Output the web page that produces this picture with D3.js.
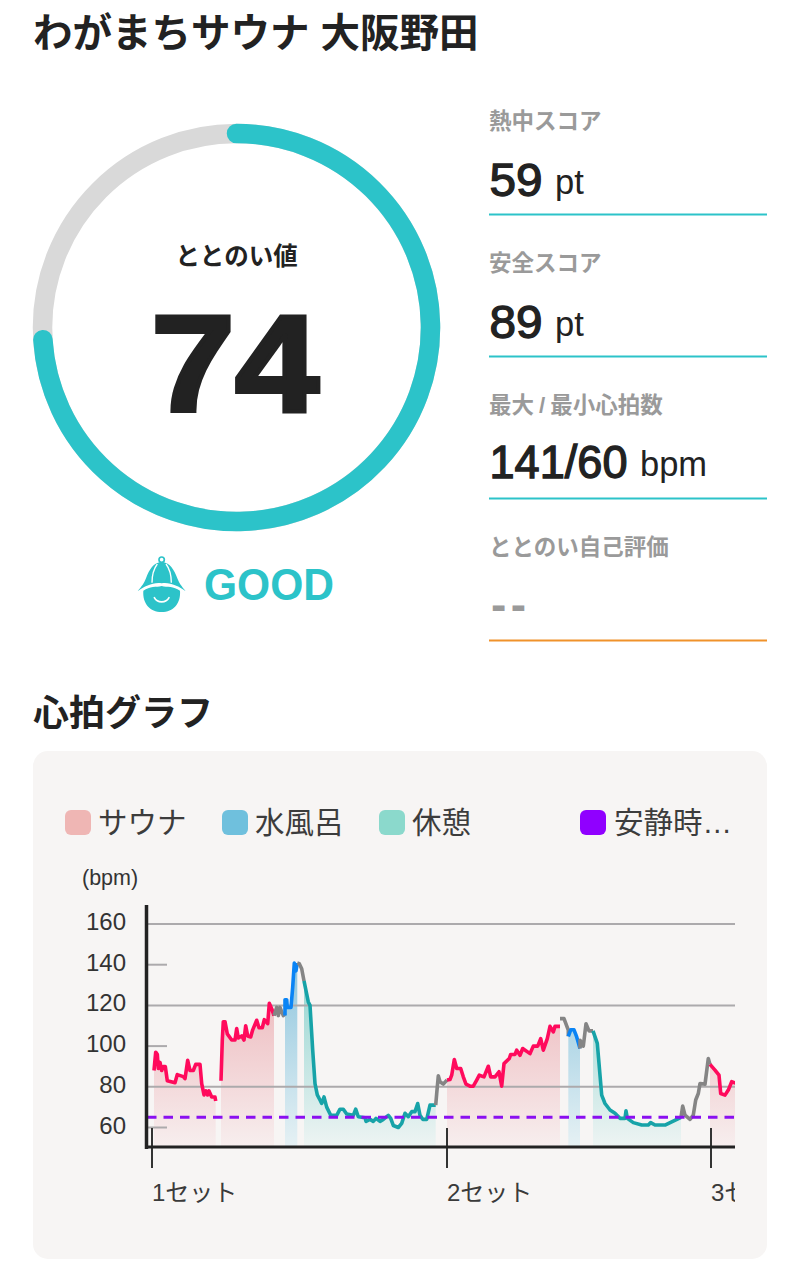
<!DOCTYPE html>
<html><head><meta charset="utf-8">
<script src="https://cdn.jsdelivr.net/npm/d3@7"></script>
<style>
html,body{margin:0;padding:0;background:#fff}
svg{display:block}
text{font-family:"Liberation Sans","Noto Sans CJK JP",sans-serif}
</style></head><body><div id="c"></div>
<script>
const title = "わがまちサウナ 大阪野田";
const gaugeLabel = "ととのい値";
const gaugeValue = 74;
const gaugeGrade = "GOOD";
const statLabels = ["熱中スコア","安全スコア","最大/最小心拍数","ととのい自己評価"];
const statValues = ["59","89","141/60","--"];
const statUnits = ["pt","pt","bpm",""];
const chartTitle = "心拍グラフ";
const legendLabels = ["サウナ","水風呂","休憩","安静時…"];
const legendColors = ["#efb6b4","#6fc0dd","#8bd9cc","#9000ff"];
const yTicks = [60,80,100,120,140,160];
const gridTicks = [80,120,160];
const setTicks = [0,295,559];
const setLabels = ["1セット","2セット","3セット"];
const restingBpm = 65;

// [elapsed time, bpm]
const sauna1 = [[2,88],[3.7,97],[5.3,96],[6.3,89],[8,92],[9.7,88],[11.3,90],[13.3,90],[15.3,83],[23,82],[25.3,86],[31.3,85],[33,84],[35.7,93],[38,88],[41.3,88],[43.7,91],[48,91],[49.7,81.6],[52,76],[54,78],[55.7,76],[57,78],[59.7,75],[63,75],[63.7,73]];
const sauna2 = [[69,83],[70.3,103],[71.3,112],[73,112],[75.3,106],[79.7,103],[83,103],[84.7,108.6],[86.3,104],[89.7,105],[92,103],[93.7,110],[95.7,105],[98.7,104.5],[100.7,108],[104.7,112.7],[107,109],[110.3,109],[112.3,113],[115.7,111],[117.3,121],[119.7,118.4],[122,115]];
const trans1 = [[122,115],[124.7,119],[126.3,115],[128,119],[131.3,115],[133,116]];
const bath1 = [[133,115],[133,122.8],[134.7,122.8],[135.3,119],[139,119],[140.7,129],[142.3,140.8],[144,137],[145.3,140.8]];
const trans2 = [[145.3,140.8],[147.3,140.5],[149.7,138],[152,132]];
const rest1 = [[152,132],[156.3,121.7],[158,120],[160.7,98],[163,81.6],[165.3,76],[168,73.5],[169.7,71.8],[172,75],[174.7,70],[178.7,66],[184.7,66],[188,69],[191.3,69],[194.7,66.6],[201.3,66],[203.7,69],[206.3,65.3],[213,64.8],[214,63],[218,64],[221.3,63],[224,64.5],[228,63],[231.3,64],[236.3,66],[238.7,64.5],[241.3,61],[246.3,60],[249.7,62],[253,67],[256.3,65.3],[259.7,67.8],[263,67.8],[265.7,71.8],[268,66],[270.7,64],[274.7,64],[278,71],[283.7,71]];
const trans3 = [[283.7,71],[284.7,76.7],[286.3,85.4],[288,82.5],[291.3,81.3],[295,83.3]];
const sauna3 = [[295,83.3],[298,83.6],[299.7,85.7],[302.3,93.4],[304.7,89],[308.7,89],[311.3,84.9],[314,81.3],[318,80.3],[321.3,80.3],[324.7,83.3],[327.3,85.7],[332,84.9],[336.3,90.1],[338.7,84.9],[343,84.9],[347,87.4],[349.7,80.3],[352,91.4],[357.3,93.9],[358.7,95.9],[363,95.9],[364.7,98],[368,95.5],[370.7,98.8],[378,96.3],[381.3,100],[385.7,100],[388.7,103.7],[391.3,98],[395.3,103.7],[398,109.7],[401.3,107],[403,109.7],[408,109.7]];
const trans4 = [[408,113.5],[412,113.5],[416.3,107.8],[416.3,104.8]];
const bath2 = [[416.3,104.8],[418.7,108],[422,108],[424.7,104.5],[428,98.8]];
const trans5 = [[428,98.8],[428,102.9],[431.3,100],[434,111],[437,107.5],[441,107.5]];
const rest2 = [[441,107.5],[445.3,101.3],[447.3,89.8],[449.7,75.9],[453,71.8],[458,68.6],[463,67],[468,64.5],[473,64.5],[474,68.2],[475.3,64.5],[481.3,62.4],[489.7,61.2],[496.3,61.2],[498.7,62.4],[503,61.2],[513,61.2],[519.7,62.8],[529,65]];
const trans6 = [[529,65],[530.7,70.5],[533,66.1],[538,64],[541.3,66.1],[543.7,73.5],[546.3,76.7],[548,81.6],[553,81.3],[556.3,93.9],[558,91]];
const sauna4 = [[558,91],[563,88.2],[567,85.7],[568.7,76.7],[573,75.9],[576.3,78.4],[579.7,82.5],[585,81.6]];
const segments = [["sauna",sauna1],["sauna",sauna2],["trans",trans1],["bath",bath1],["trans",trans2],["rest",rest1],["trans",trans3],["sauna",sauna3],["trans",trans4],["bath",bath2],["trans",trans5],["rest",rest2],["trans",trans6],["sauna",sauna4]];
const lineColor = {sauna:"#ff0a5c",bath:"#0a84f5",trans:"#858585",rest:"#17a3a8"};
const fillStops = {sauna:["#efc3c6","#f7eeee"],bath:["#8fc6de","#e6f1f4"],rest:["#9fd9d5","#eef4f3"]};

const ink="#222", teal="#2cc3c9";
const svg=d3.select("#c").append("svg").attr("width",800).attr("height",1268);
const defs=svg.append("defs");

svg.append("text").attr("x",33).attr("y",47).attr("font-size",39.5).attr("font-weight",700).attr("fill",ink).text(title);

// gauge
const cx=236.5, cy=327.5, r=194;
const g=svg.append("g").attr("transform",`translate(${cx},${cy})`);
const angle=d3.scaleLinear().domain([0,100]).range([-Math.PI/2,1.5*Math.PI]);
const ring=v=>{const p=d3.path();p.arc(0,0,r,angle(0),angle(v));return p.toString();};
g.append("circle").attr("r",r).attr("fill","none").attr("stroke","#d9d9d9").attr("stroke-width",19.5);
g.append("path").attr("d",ring(gaugeValue)).attr("fill","none").attr("stroke",teal).attr("stroke-width",19.5).attr("stroke-linecap","round");
g.append("text").attr("y",-63).attr("text-anchor","middle").attr("font-size",24.5).attr("font-weight",700).attr("fill",ink).text(gaugeLabel);
g.append("text").attr("y",83).attr("x",-85.5).attr("font-size",138).attr("font-weight",700).attr("fill",ink)
  .attr("stroke",ink).attr("stroke-width",4).attr("textLength",168).attr("lengthAdjust","spacingAndGlyphs").text(gaugeValue);

// grade icon
const ic=svg.append("g").attr("transform","translate(120,550) scale(0.3333)");
ic.append("circle").attr("cx",125).attr("cy",29).attr("r",8).attr("fill","none").attr("stroke",teal).attr("stroke-width",5);
ic.append("path").attr("fill",teal).attr("d","M125 36C100 38 88 58 78 85C72 100 66 108 53 124C75 108 100 96 125 100C150 96 175 108 197 124C184 108 178 100 172 85C162 58 150 38 125 36Z");
ic.append("path").attr("fill","none").attr("stroke","#fff").attr("stroke-width",4).attr("d","M112 42C100 58 96 78 96 98M138 42C150 58 154 78 154 98");
ic.append("path").attr("fill",teal).attr("d","M70 122C90 108 108 112 125 108C142 112 160 108 180 122C183 160 160 186 125 186C90 186 67 160 70 122Z");
ic.append("path").attr("fill","none").attr("stroke","#fff").attr("stroke-width",5).attr("stroke-linecap","round").attr("d","M103 143C112 160 138 160 147 143");
svg.append("text").attr("x",204).attr("y",600).attr("font-size",45).attr("font-weight",700).attr("fill",teal)
  .attr("textLength",130).attr("lengthAdjust","spacingAndGlyphs").text(gaugeGrade);

// stats
const statY=d3.scaleLinear().domain([0,3]).range([0,426]);
const statBase=[196,338,478,620];
const unitX=[555,555,640,0];
const valueWidth=[53,53,138,0];
statLabels.forEach((l,i)=>{
  const s=svg.append("g");
  const lab=s.append("text").attr("x",489).attr("y",statY(i)+129).attr("font-size",22.5).attr("font-weight",700).attr("fill","#9a9a9a");
  l.split("/").forEach((part,j)=>{
    if(j>0) lab.append("tspan").attr("dx",5).text("/");
    lab.append("tspan").attr("dx",j>0?5:0).text(part);
  });
  const blank=statUnits[i]==="";
  if(blank){
    s.append("text").attr("x",491).attr("y",statBase[i]).attr("font-size",46).attr("font-weight",700).attr("letter-spacing",4.5).attr("fill","#9a9a9a").text(statValues[i]);
  }else{
    s.append("text").attr("x",489.5).attr("y",statBase[i]).attr("font-size",46).attr("fill",ink)
      .attr("stroke",ink).attr("stroke-width",1.3).attr("textLength",valueWidth[i]).attr("lengthAdjust","spacingAndGlyphs").text(statValues[i]);
    s.append("text").attr("x",unitX[i]).attr("y",statBase[i]-2).attr("font-size",34.5).attr("fill",ink).text(statUnits[i]);
  }
  s.append("line").attr("x1",489).attr("x2",767).attr("y1",statY(i)+214.5).attr("y2",statY(i)+214.5).attr("stroke",i===3?"#f0922b":teal).attr("stroke-width",2);
});

// chart
svg.append("text").attr("x",33).attr("y",726).attr("font-size",36).attr("font-weight",700).attr("fill",ink).text(chartTitle);
svg.append("rect").attr("x",33).attr("y",751).attr("width",734).attr("height",508).attr("rx",15).attr("fill","#f7f5f4");

const legendX=[65,222,379,580];
legendLabels.forEach((l,i)=>{
  const k=svg.append("g").attr("transform",`translate(${legendX[i]},810)`);
  k.append("rect").attr("width",26).attr("height",25).attr("rx",6).attr("fill",legendColors[i]);
  k.append("text").attr("x",i===3?34:33).attr("y",23).attr("font-size",29.5).attr("fill","#3c3c3c").text(l);
});

const x=d3.scaleLinear().domain([0,583]).range([152,735]);
const y=d3.scaleLinear().domain([60,160]).range([1127.5,924]);
const base=y.invert(1147);

defs.append("clipPath").attr("id","plot").append("rect").attr("x",147).attr("y",890).attr("width",588).attr("height",340);
const plot=svg.append("g").attr("clip-path","url(#plot)");

Object.entries(fillStops).forEach(([k,c])=>{
  const gr=defs.append("linearGradient").attr("id","f-"+k).attr("gradientUnits","userSpaceOnUse").attr("x1",0).attr("x2",0).attr("y1",y(k==="rest"?125:k==="bath"?140:115)).attr("y2",y(base));
  gr.append("stop").attr("offset",0).attr("stop-color",c[0]);
  gr.append("stop").attr("offset",1).attr("stop-color",c[1]);
});

const area=d3.area().x(d=>x(d[0])).y0(y(base)).y1(d=>y(d[1]));
const line=d3.line().x(d=>x(d[0])).y(d=>y(d[1]));

plot.selectAll("path.fill").data(segments.filter(d=>d[0]!=="trans")).join("path").attr("class","fill")
  .attr("d",d=>area(d[1])).attr("fill",d=>`url(#f-${d[0]})`);

// grid + ticks
yTicks.forEach(v=>{
  plot.append("line").attr("x1",147).attr("x2",gridTicks.includes(v)?735:167).attr("y1",y(v)).attr("y2",y(v)).attr("stroke","#acaaac").attr("stroke-width",2);
});
plot.selectAll("path.hr").data(segments).join("path").attr("class","hr")
  .attr("d",d=>line(d[1])).attr("fill","none").attr("stroke",d=>lineColor[d[0]]).attr("stroke-width",3.6).attr("stroke-linejoin","round");
plot.append("line").attr("x1",147).attr("x2",735).attr("y1",y(restingBpm)).attr("y2",y(restingBpm))
  .attr("stroke","#8a0ff0").attr("stroke-width",3).attr("stroke-dasharray","9.5 7");

yTicks.forEach(v=>{
  svg.append("text").attr("x",126).attr("y",y(v)+6).attr("text-anchor","end").attr("font-size",24).attr("fill","#333").text(v);
});
svg.append("text").attr("x",82).attr("y",884.5).attr("font-size",21.5).attr("fill","#333").text("(bpm)");

// x ticks
setTicks.forEach((t,i)=>{
  plot.append("line").attr("x1",x(t)).attr("x2",x(t)).attr("y1",1128).attr("y2",1168).attr("stroke","#333").attr("stroke-width",2);
  plot.append("text").attr("x",x(t)).attr("y",1201).attr("font-size",24).attr("fill","#3a3a3a").text(setLabels[i]);
});
svg.append("line").attr("x1",146.5).attr("x2",146.5).attr("y1",905).attr("y2",1149).attr("stroke",ink).attr("stroke-width",3.5);
svg.append("line").attr("x1",145).attr("x2",735).attr("y1",1147).attr("y2",1147).attr("stroke",ink).attr("stroke-width",3);
</script></body></html>
